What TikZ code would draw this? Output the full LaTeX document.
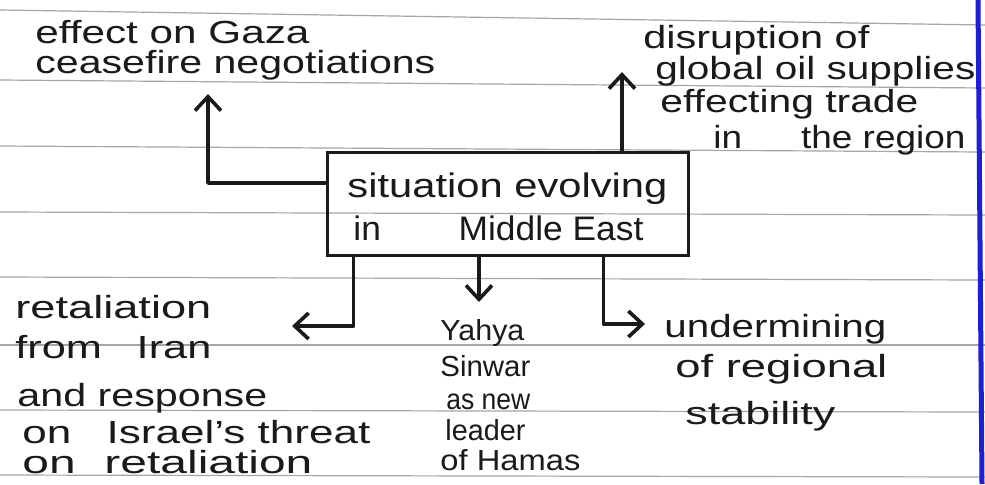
\documentclass[tikz,border=0pt]{standalone}
\usepackage{fontspec}
\setmainfont{Liberation Sans}
\usetikzlibrary{arrows.meta}
\newcommand{\hwide}[2]{\resizebox{#1pt}{\height}{#2}}
\definecolor{ink}{RGB}{25,25,30}
\definecolor{paperline}{RGB}{165,165,172}
\definecolor{marginblue}{RGB}{30,30,215}
\begin{document}
\begin{tikzpicture}[x=0.5pt,y=-0.5pt,
  txt/.style={anchor=base west, inner sep=0pt, text=ink, font=\fontsize{16}{18}\selectfont},
  smalltxt/.style={txt, font=\fontsize{14.5}{17}\selectfont},
  conn/.style={draw=ink, line width=1.8pt, line cap=round, line join=round, -{Straight Barb[length=7pt,width=13pt]}},
  mainbox/.style={draw=ink, line width=1.5pt, minimum width=180.5pt, minimum height=51.5pt, inner sep=0pt},
  rulestyle/.style={draw=paperline, line width=0.6pt}]
\useasboundingbox (0,0) rectangle (985,484);
\fill[white] (0,0) rectangle (985,484);
% ruled paper
\foreach \yl/\yr in {10/25, 80/88, 146/152, 212/215, 277/280, 345/345, 410/412, 475/477}
  \draw[rulestyle] (0,\yl) -- (985,\yr);
\draw[marginblue, line width=2.5pt] (978,0) -- (982,484);

% central box
\node[mainbox] (box) at (507.5,203.5) {};
\node[txt, font=\fontsize{17}{19}\selectfont] (sit1) at (347,197) {\hwide{160}{situation evolving}};
\node[txt, font=\fontsize{17}{19}\selectfont] (sit2) at (353,240) {\hwide{145}{in\hspace{2.2em}Middle East}};

% top left
\node[txt] (gaza1) at (35,43) {\hwide{137}{effect on Gaza}};
\node[txt] (gaza2) at (35,73) {\hwide{200}{ceasefire negotiations}};

% top right
\node[txt] (oil1) at (643,48) {\hwide{113}{disruption of}};
\node[txt] (oil2) at (655,79) {\hwide{160}{global oil supplies}};
\node[txt] (oil3) at (660,112) {\hwide{129}{effecting trade}};
\node[txt] (oil4) at (713,148) {\hwide{126}{in\hspace{1.6em}the region}};

% bottom left
\node[txt] (ret1) at (15,318) {\hwide{98}{retaliation}};
\node[txt] (ret2) at (15,358) {\hwide{98}{from\hspace{0.8em}Iran}};
\node[txt] (ret3) at (17,406) {\hwide{125}{and response}};
\node[txt] (ret4) at (22,443) {\hwide{174}{on\hspace{0.8em}Israel's threat}};
\node[txt] (ret5) at (22,473) {\hwide{145}{on\hspace{0.6em}retaliation}};

% bottom centre
\node[smalltxt] (yah1) at (440,340) {\hwide{42}{Yahya}};
\node[smalltxt] (yah2) at (440,376) {\hwide{45}{Sinwar}};
\node[smalltxt] (yah3) at (446,409) {\hwide{42}{as new}};
\node[smalltxt] (yah4) at (445,440) {\hwide{40}{leader}};
\node[smalltxt] (yah5) at (440,470) {\hwide{70}{of Hamas}};

% bottom right
\node[txt] (und1) at (664,337) {\hwide{111}{undermining}};
\node[txt] (und2) at (675,377) {\hwide{106}{of regional}};
\node[txt] (und3) at (685,424) {\hwide{75}{stability}};

% arrow ends
\coordinate (gazatip) at (208,94);
\coordinate (oiltip) at (622,72);
\coordinate (rettip) at (292,326);
\coordinate (yahtip) at (479,302);
\coordinate (undtip) at (645,324);

% connectors
\draw[conn] ([yshift=10.25pt]box.west) -| (gazatip);
\draw[conn] (box.north -| oiltip) -- (oiltip);
\draw[conn] ([xshift=14pt]box.south west) |- (rettip);
\draw[conn] (box.south -| yahtip) -- (yahtip);
\draw[conn] ([xshift=-43pt]box.south east) |- (undtip);
\end{tikzpicture}
\end{document}
